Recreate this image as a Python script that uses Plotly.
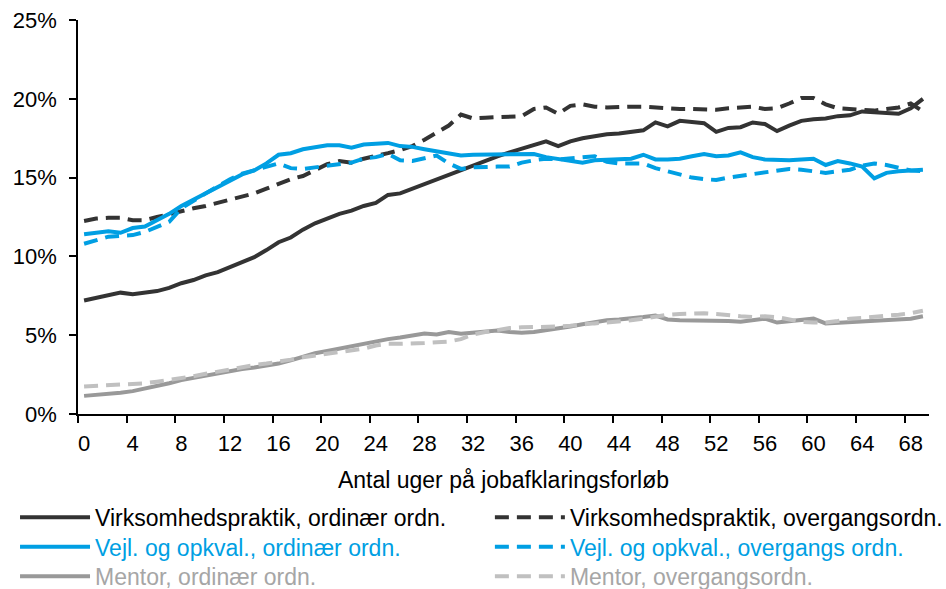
import plotly.graph_objects as go

weeks = list(range(70))
week_labels = [str(w) for w in weeks]

virk_ord = [7.2, 7.35, 7.5, 7.7, 7.6, 7.7, 7.8, 8.0, 8.3, 8.5,
            8.8, 9.0, 9.3, 9.6, 9.95, 10.4, 10.9, 11.2, 11.7, 12.1,
            12.4, 12.7, 12.9, 13.2, 13.4, 13.9, 14.0, 14.3, 14.6, 14.9,
            15.2, 15.5, 15.8, 16.1, 16.35, 16.6, 16.85, 17.05, 17.3, 17.0,
            17.3, 17.5, 17.65, 17.75, 17.8, 17.9, 18.0, 18.5, 18.25, 18.6,
            18.5, 18.45, 17.9, 18.15, 18.2, 18.5, 18.4, 17.95, 18.3, 18.6,
            18.7, 18.75, 18.9, 18.95, 19.2, 19.15, 19.15, 19.05, 19.4, 20.0]

virk_overg = [12.25, 12.4, 12.45, 12.45, 12.3, 12.3, 12.5, 12.7, 12.9, 13.05,
              13.2, 13.4, 13.6, 13.8, 14.0, 14.3, 14.6, 14.9, 15.1, 15.5,
              15.85, 16.05, 15.95, 16.2, 16.35, 16.55, 16.75, 17.0, 17.4, 17.85,
              18.3, 19.0, 18.75, 18.8, 18.85, 18.85, 18.9, 19.35, 19.45, 19.05,
              19.55, 19.65, 19.5, 19.45, 19.5, 19.5, 19.5, 19.45, 19.35, 19.35,
              19.35, 19.35, 19.3, 19.4, 19.45, 19.5, 19.35, 19.4, 19.7, 20.05,
              20.05, 19.65, 19.4, 19.35, 19.3, 19.25, 19.35, 19.45, 19.7, 19.2]

vejl_ord = [11.4, 11.5, 11.6, 11.5, 11.8, 11.9, 12.3, 12.7, 13.2, 13.6,
            14.0, 14.4, 14.85, 15.2, 15.45, 15.9, 16.45, 16.55, 16.8, 16.95,
            17.05, 17.05, 16.9, 17.1, 17.15, 17.2, 17.0, 16.95, 16.8, 16.65,
            16.5, 16.4, 16.45, 16.45, 16.45, 16.5, 16.5, 16.5, 16.3, 16.2,
            16.1, 15.95, 16.1, 16.15, 16.15, 16.2, 16.45, 16.15, 16.15, 16.2,
            16.35, 16.5, 16.35, 16.4, 16.6, 16.3, 16.15, 16.1, 16.1, 16.15,
            16.2, 15.8, 16.05, 15.9, 15.7, 14.95, 15.3, 15.4, 15.45, 15.5]

vejl_overg = [10.8, 11.0, 11.25, 11.3, 11.35, 11.55, 11.9, 12.2, 13.05, 13.55,
              14.0, 14.45, 14.9, 15.25, 15.45, 15.7, 15.9, 15.6, 15.55, 15.65,
              15.75, 15.85, 15.95, 16.2, 16.3, 16.5, 16.1, 16.05, 16.2, 16.4,
              15.9, 15.55, 15.65, 15.7, 15.7, 15.7, 15.95, 16.1, 16.2, 16.15,
              16.2, 16.3, 16.35, 16.0, 15.9, 15.9, 15.9, 15.6, 15.4, 15.15,
              15.0, 14.9, 14.85, 15.0, 15.1, 15.2, 15.3, 15.4, 15.55, 15.5,
              15.4, 15.3, 15.4, 15.5, 15.75, 15.9, 15.8, 15.6, 15.45, 15.4]

mentor_ord = [1.15, 1.2, 1.25, 1.35, 1.45, 1.6, 1.75, 1.95, 2.15, 2.3,
              2.45, 2.6, 2.75, 2.85, 2.95, 3.05, 3.2, 3.4, 3.65, 3.85,
              4.0, 4.15, 4.35, 4.45, 4.6, 4.75, 4.85, 4.95, 5.1, 5.05,
              5.2, 5.1, 5.15, 5.25, 5.3, 5.2, 5.15, 5.2, 5.3, 5.45,
              5.55, 5.7, 5.85, 5.95, 6.0, 6.05, 6.15, 6.25, 6.0, 5.95,
              5.95, 5.95, 5.9, 5.9, 5.85, 5.95, 6.05, 5.8, 5.9, 6.0,
              6.05, 5.75, 5.8, 5.85, 5.9, 5.95, 5.95, 6.0, 6.05, 6.2]

mentor_overg = [1.75, 1.78, 1.82, 1.85, 1.88, 1.95, 2.05, 2.15, 2.3, 2.4,
                2.55, 2.7, 2.85, 3.0, 3.1, 3.2, 3.3, 3.45, 3.6, 3.7,
                3.8, 3.9, 4.0, 4.15, 4.35, 4.45, 4.45, 4.45, 4.5, 4.55,
                4.6, 4.75, 5.05, 5.2, 5.35, 5.45, 5.5, 5.5, 5.5, 5.55,
                5.6, 5.7, 5.75, 5.8, 5.85, 5.95, 6.05, 6.2, 6.3, 6.35,
                6.4, 6.4, 6.35, 6.25, 6.2, 6.15, 6.2, 6.15, 6.0, 5.85,
                5.8, 5.8, 5.9, 6.05, 6.1, 6.15, 6.2, 6.3, 6.4, 6.55]

y_ticks = [0, 5, 10, 15, 20, 25]
y_ticklabels = ["0%", "5%", "10%", "15%", "20%", "25%"]

BLACK = "#333333"
BLUE = "#009fe3"
GRAY = "#999999"
LGRAY = "#c0c0c0"
DASH = "14px,8px"
FONT = "Liberation Sans, Arial, sans-serif"

series = [
    ("Virksomhedspraktik, ordinær ordn.", virk_ord, BLACK, "solid", "#000000"),
    ("Virksomhedspraktik, overgangsordn.", virk_overg, BLACK, DASH, "#000000"),
    ("Vejl. og opkval., ordinær ordn.", vejl_ord, BLUE, "solid", BLUE),
    ("Vejl. og opkval., overgangs ordn.", vejl_overg, BLUE, DASH, BLUE),
    ("Mentor, ordinær ordn.", mentor_ord, GRAY, "solid", "#a6a6a6"),
    ("Mentor, overgangsordn.", mentor_overg, LGRAY, DASH, "#a6a6a6"),
]

# legend placement: two columns x three rows (paper coordinates)
legend_cols = [-0.074, 0.484]
legend_rows = [-0.262, -0.337, -0.412]

fig = go.Figure()
legend_layouts = {}
for i, (name, vals, color, dash, tcolor) in enumerate(series):
    lname = "legend" if i == 0 else f"legend{i + 1}"
    fig.add_trace(go.Scatter(
        x=week_labels, y=vals, mode="lines",
        name=name,
        legend=lname,
        line=dict(color=color, width=4, dash=dash),
        hoverinfo="skip",
    ))
    legend_layouts[lname] = dict(
        x=legend_cols[i % 2], xanchor="left",
        y=legend_rows[i // 2], yanchor="middle",
        orientation="v",
        font=dict(family=FONT, size=23, color=tcolor),
        itemwidth=70, bgcolor="rgba(0,0,0,0)", borderwidth=0,
    )

fig.update_layout(
    width=946, height=589,
    margin=dict(l=78, r=17, t=20, b=175, autoexpand=False),
    paper_bgcolor="white", plot_bgcolor="white",
    font=dict(family=FONT, size=22, color="#000000"),
    showlegend=True,
    xaxis=dict(
        type="category", categoryorder="array", categoryarray=week_labels,
        range=[-0.5, len(weeks) - 0.5],
        tickmode="linear", tick0=0, dtick=4,
        tickson="boundaries", tickangle=0,
        ticks="outside", ticklen=7, tickwidth=1.5, tickcolor="#000000",
        ticklabelstandoff=9,
        showline=True, linecolor="#000000", linewidth=1.5,
        showgrid=False, zeroline=False,
        tickfont=dict(family=FONT, size=22, color="#000000"),
        title=dict(text="Antal uger på jobafklaringsforløb",
                   font=dict(family=FONT, size=23, color="#000000"), standoff=17),
    ),
    yaxis=dict(
        range=[0, 25], tickmode="array", tickvals=y_ticks, ticktext=y_ticklabels,
        ticks="outside", ticklen=7, tickwidth=1.5, tickcolor="#000000",
        ticklabelstandoff=8,
        showline=True, linecolor="#000000", linewidth=1.5,
        showgrid=False, zeroline=False,
        tickfont=dict(family=FONT, size=22, color="#000000"),
    ),
    **legend_layouts,
)

fig.write_html(
    "out.html",
    config={"displayModeBar": False},
    post_script="document.body.style.margin='0px';document.body.style.overflow='hidden';",
)
